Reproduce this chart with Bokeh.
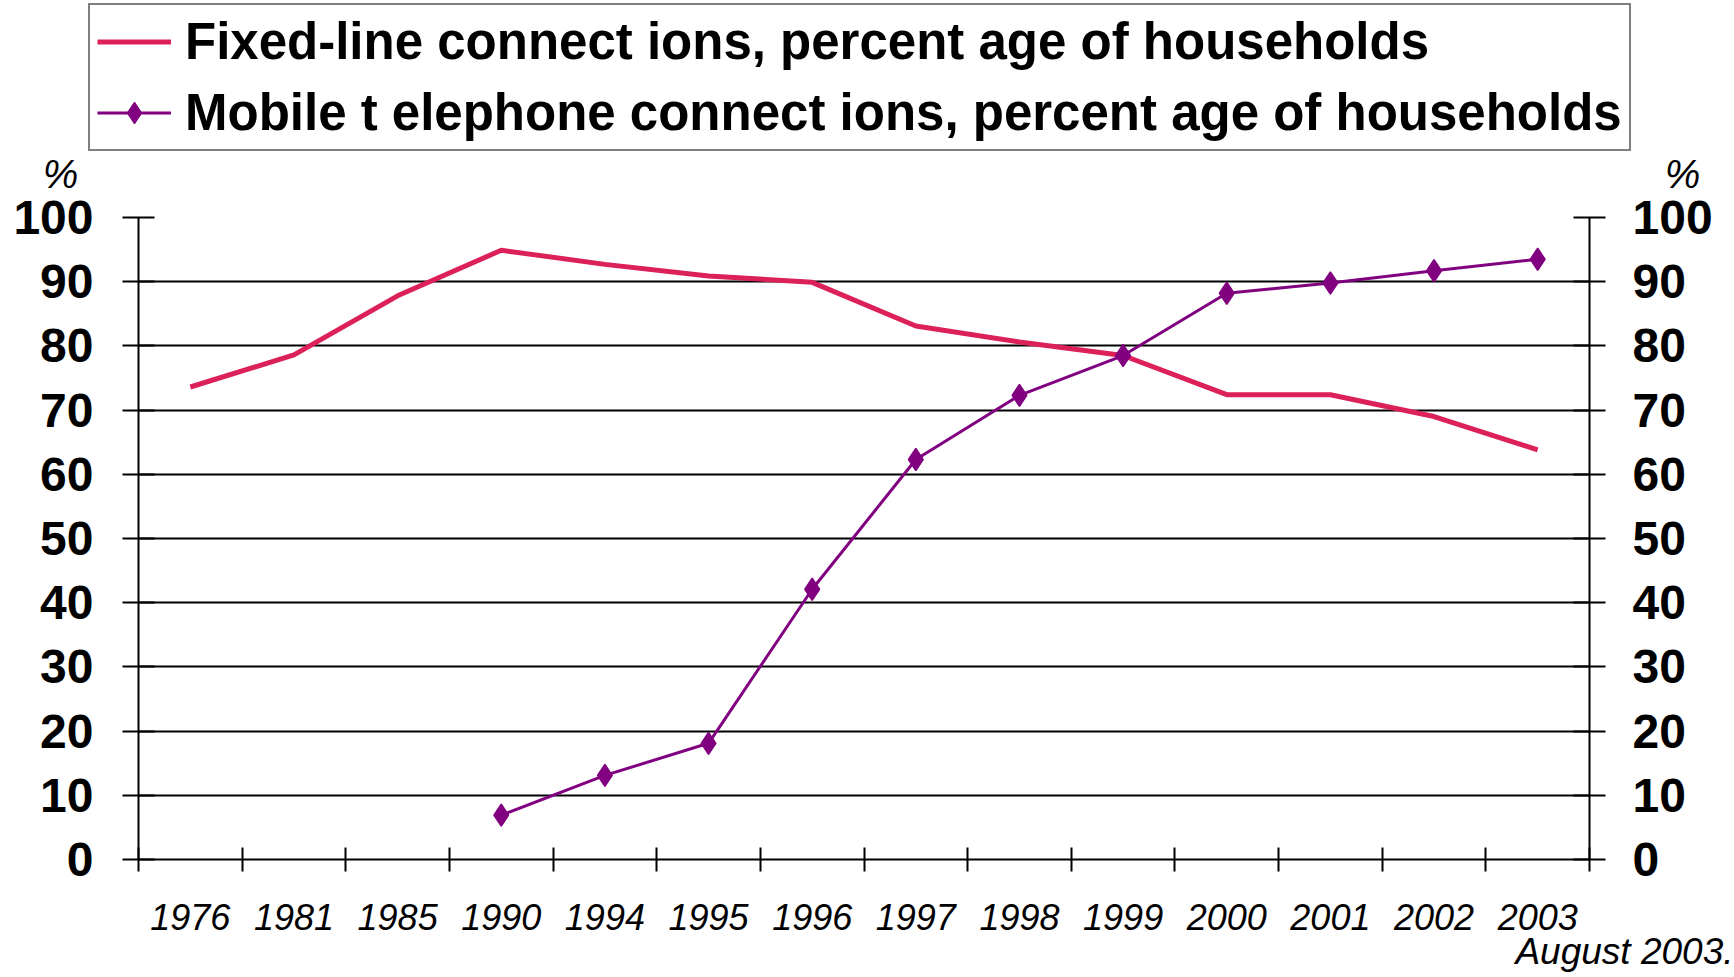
from bokeh.plotting import figure
from bokeh.layouts import column
from bokeh.models import Range1d, LinearAxis, FixedTicker, Legend, LegendItem, Label
from bokeh.embed import file_html
from bokeh.resources import INLINE

# Survey years (categories along the x axis)
years = ["1976", "1981", "1985", "1990", "1994", "1995", "1996",
         "1997", "1998", "1999", "2000", "2001", "2002", "2003"]

# Fixed-line connections, percentage of households
fixed_line = [73.6, 78.6, 87.8, 94.9, 92.7, 90.9, 89.9,
              83.1, 80.6, 78.5, 72.4, 72.4, 69.0, 63.8]

# Mobile telephone connections, percentage of households (from 1990)
mobile_years = ["1990", "1994", "1995", "1996", "1997", "1998", "1999",
                "2000", "2001", "2002", "2003"]
mobile = [6.9, 13.1, 18.1, 42.1, 62.3, 72.3, 78.5, 88.2, 89.8, 91.7, 93.5]

y_ticks = list(range(0, 101, 10))

legend_labels = ["Fixed-line connect ions, percent age of households",
                 "Mobile t elephone connect ions, percent age of households"]
unit_label = "%"
source_note = "August 2003."

FIXED_COLOR = "#DC2058"
MOBILE_COLOR = "#800080"
FONT = "Liberation Sans"
W, H = 1734, 977
HEAD_H = 196                 # strip holding the legend and unit markers
CHART_END = 936              # page row where the footer strip begins
FOOT_H = H - CHART_END       # strip holding the date note
CHART_H = CHART_END - HEAD_H
FRAME_TOP, FRAME_BOTTOM = 217, 859   # page rows of the 100 and 0 gridlines


def strip(height):
    f = figure(width=W, height=height, output_backend="svg", toolbar_location=None,
               x_range=Range1d(0, 1), y_range=Range1d(0, 1), min_border=0,
               x_axis_location=None, y_axis_location=None)
    f.frame_align = False
    f.outline_line_color = None
    f.grid.visible = False
    f.background_fill_color = "white"
    f.border_fill_color = "white"
    return f


# ---------------- main chart ----------------
# each year occupies one unit slot; marks sit at slot centres
centers = {y: i + 0.5 for i, y in enumerate(years)}
x_fixed = [centers[y] for y in years]
x_mobile = [centers[y] for y in mobile_years]

p = figure(width=W, height=CHART_H, output_backend="svg", toolbar_location=None,
           x_range=Range1d(0, len(years)), y_range=Range1d(0, 100),
           min_border_left=138, min_border_right=145,
           min_border_top=FRAME_TOP - HEAD_H,
           min_border_bottom=CHART_END - FRAME_BOTTOM,
           x_axis_location=None, y_axis_location=None)
p.frame_align = False
p.outline_line_color = None
p.background_fill_color = "white"
p.border_fill_color = "white"

# horizontal grid only
p.xgrid.visible = False
p.ygrid.ticker = FixedTicker(ticks=y_ticks)
p.ygrid.grid_line_color = "black"
p.ygrid.grid_line_width = 2

# bottom axis: slot boundaries as minor ticks, year labels at slot centres
xaxis = LinearAxis(ticker=FixedTicker(ticks=x_fixed,
                                      minor_ticks=list(range(len(years) + 1))))
xaxis.major_label_overrides = {c: y for y, c in zip(years, x_fixed)}
xaxis.major_tick_in = 0
xaxis.major_tick_out = 0
xaxis.minor_tick_in = 12
xaxis.minor_tick_out = 12
xaxis.minor_tick_line_color = "black"
xaxis.minor_tick_line_width = 2
xaxis.axis_line_color = "black"
xaxis.axis_line_width = 2
xaxis.major_label_standoff = 32
xaxis.major_label_text_font = FONT
xaxis.major_label_text_font_style = "italic"
xaxis.major_label_text_font_size = "36px"
xaxis.major_label_text_color = "black"
p.add_layout(xaxis, "below")


def style_y(ax):
    ax.major_tick_in = 16
    ax.major_tick_out = 16
    ax.minor_tick_line_color = None
    ax.major_tick_line_color = "black"
    ax.major_tick_line_width = 2
    ax.axis_line_color = "black"
    ax.axis_line_width = 2
    ax.major_label_text_font = FONT
    ax.major_label_text_font_style = "bold"
    ax.major_label_text_font_size = "48px"
    ax.major_label_text_color = "black"


yl = LinearAxis(ticker=FixedTicker(ticks=y_ticks))
style_y(yl)
yl.major_label_standoff = 29
p.add_layout(yl, "left")

yr = LinearAxis(ticker=FixedTicker(ticks=y_ticks))
style_y(yr)
yr.major_label_standoff = 27
p.add_layout(yr, "right")

p.line(x_fixed, fixed_line, line_color=FIXED_COLOR, line_width=5)
p.line(x_mobile, mobile, line_color=MOBILE_COLOR, line_width=3)
p.scatter(x_mobile, mobile, marker="diamond", size=22, line_width=1.5,
          fill_color=MOBILE_COLOR, line_color=MOBILE_COLOR)

# ---------------- header: legend and unit markers ----------------
head = strip(HEAD_H)
nan = float("nan")
# legend proxies styled like the chart series (no drawable points)
k_fixed = head.line([nan, nan], [nan, nan], line_color=FIXED_COLOR, line_width=5)
k_mob_line = head.line([nan, nan], [nan, nan], line_color=MOBILE_COLOR, line_width=3)
k_mob_pts = head.scatter([nan], [nan], marker="diamond",
                         fill_color=MOBILE_COLOR, line_color=MOBILE_COLOR)

legend = Legend(items=[
    LegendItem(label=legend_labels[0], renderers=[k_fixed]),
    LegendItem(label=legend_labels[1], renderers=[k_mob_line, k_mob_pts]),
], location=(88, HEAD_H - 151))
legend.label_text_font = FONT
legend.label_text_font_style = "bold"
legend.label_text_font_size = "51px"
legend.label_text_color = "black"
legend.glyph_width = 74
legend.glyph_height = 55
legend.label_standoff = 14
legend.padding = 7
legend.spacing = 12
legend.margin = 0
legend.border_line_color = "black"
legend.border_line_width = 2
legend.background_fill_color = "white"
legend.background_fill_alpha = 1
head.add_layout(legend, "center")

for sx in (60, 1682):
    head.add_layout(Label(x=sx, y=HEAD_H - 173, x_units="screen", y_units="screen",
                          text=unit_label, text_font=FONT, text_font_style="italic",
                          text_font_size="40px", text_align="center",
                          text_baseline="middle", text_color="black"))

# ---------------- footer: date note ----------------
foot = strip(FOOT_H)
foot.add_layout(Label(x=W - 1, y=H - 951, x_units="screen", y_units="screen",
                      text=source_note, text_font=FONT, text_font_style="italic",
                      text_font_size="37px", text_align="right",
                      text_baseline="middle", text_color="black"))

layout = column(head, p, foot, spacing=0)
open("out.html", "w").write(file_html(layout, INLINE))
